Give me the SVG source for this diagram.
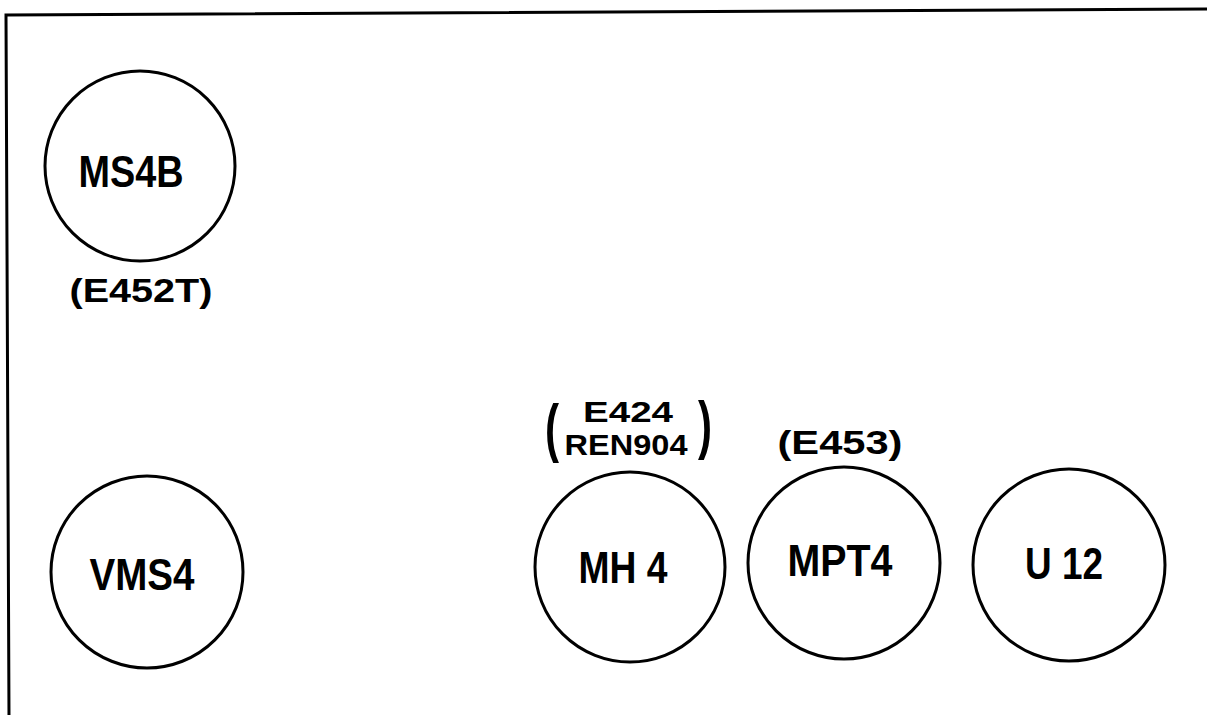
<svg xmlns="http://www.w3.org/2000/svg" width="1207" height="715" viewBox="0 0 1207 715">
<style>
.node{fill:none;stroke:#000;stroke-width:3}
.t{font-family:"Liberation Sans",Arial,sans-serif;font-weight:bold;fill:#000;text-anchor:middle}
.big{font-size:44px}
.sm{font-size:33px}
.xs{font-size:29px}
.frame{fill:none;stroke:#000;stroke-width:3}
</style>
<rect width="1207" height="715" fill="#fff"/>
<path class="frame" d="M1207,9 L6,15 L9,715"/>
<g id="MS4B">
<circle class="node" cx="140" cy="166" r="95"/>
<text class="t big" x="131" y="187" textLength="105" lengthAdjust="spacingAndGlyphs">MS4B</text>
<text class="t sm" x="141" y="302" textLength="143" lengthAdjust="spacingAndGlyphs">(E452T)</text>
</g>
<g id="VMS4">
<circle class="node" cx="147" cy="572" r="96"/>
<text class="t big" x="142" y="590" textLength="105" lengthAdjust="spacingAndGlyphs">VMS4</text>
</g>
<g id="MH4">
<circle class="node" cx="630" cy="567" r="95"/>
<text class="t big" x="623" y="583" textLength="89" lengthAdjust="spacingAndGlyphs">MH 4</text>
<text class="t xs" x="628" y="422" textLength="90" lengthAdjust="spacingAndGlyphs">E424</text>
<text class="t xs" x="626" y="455" textLength="123" lengthAdjust="spacingAndGlyphs">REN904</text>
<text class="t" x="552" y="450" font-size="64" font-weight="normal" textLength="14" lengthAdjust="spacingAndGlyphs">(</text>
<text class="t" x="705" y="447" font-size="64" font-weight="normal" textLength="14" lengthAdjust="spacingAndGlyphs">)</text>
</g>
<g id="MPT4">
<circle class="node" cx="844" cy="563" r="96"/>
<text class="t big" x="840" y="576" textLength="105" lengthAdjust="spacingAndGlyphs">MPT4</text>
<text class="t sm" x="840" y="454" textLength="125" lengthAdjust="spacingAndGlyphs">(E453)</text>
</g>
<g id="U12">
<circle class="node" cx="1069" cy="565" r="96"/>
<text class="t big" x="1064" y="579" textLength="78" lengthAdjust="spacingAndGlyphs">U 12</text>
</g>
<g id="connectors"></g>
</svg>
